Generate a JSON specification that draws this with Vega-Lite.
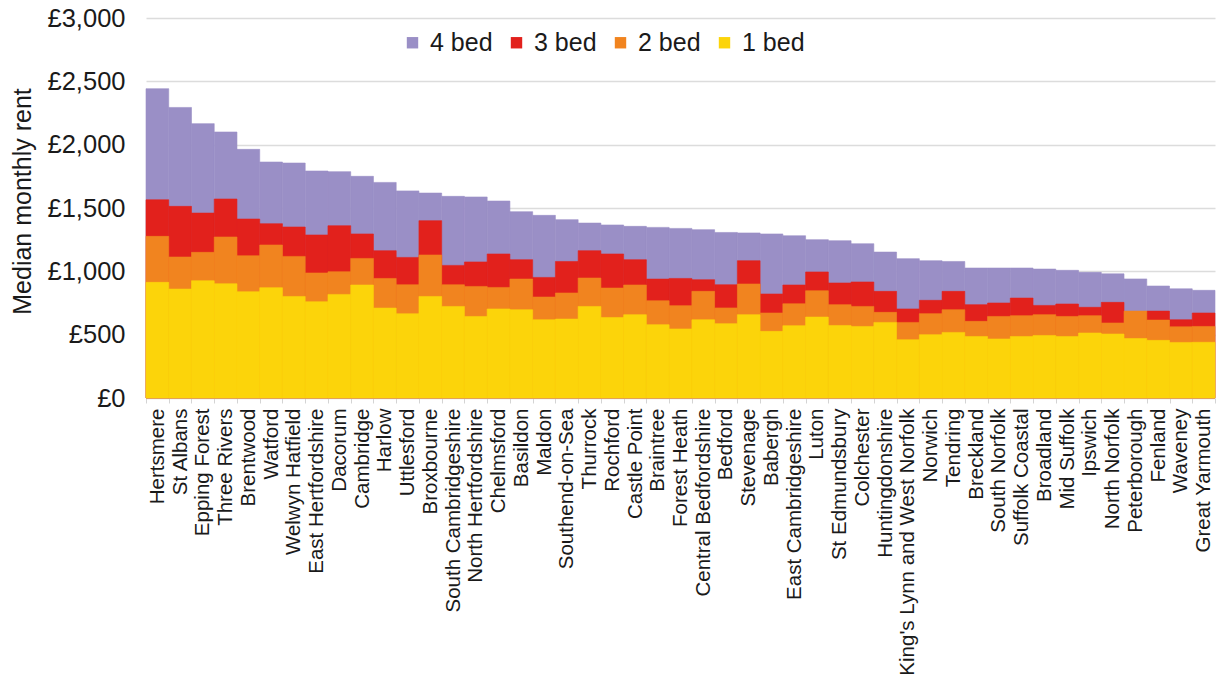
{
  "$schema": "https://vega.github.io/schema/vega-lite/v6.json",
  "width": 1069,
  "height": 380,
  "autosize": {"type": "none"},
  "padding": {"left": 146, "top": 18, "right": 1, "bottom": 279},
  "background": "white",
  "config": {
    "font": "Liberation Sans",
    "view": {"stroke": null}
  },
  "data": {
    "values": [
      {"district": "Hertsmere", "4 bed": 2442, "3 bed": 1565, "2 bed": 1276, "1 bed": 913},
      {"district": "St Albans", "4 bed": 2294, "3 bed": 1513, "2 bed": 1113, "1 bed": 860},
      {"district": "Epping Forest", "4 bed": 2166, "3 bed": 1460, "2 bed": 1150, "1 bed": 926},
      {"district": "Three Rivers", "4 bed": 2100, "3 bed": 1571, "2 bed": 1271, "1 bed": 902},
      {"district": "Brentwood", "4 bed": 1963, "3 bed": 1413, "2 bed": 1123, "1 bed": 839},
      {"district": "Watford", "4 bed": 1863, "3 bed": 1376, "2 bed": 1208, "1 bed": 871},
      {"district": "Welwyn Hatfield", "4 bed": 1855, "3 bed": 1350, "2 bed": 1118, "1 bed": 802},
      {"district": "East Hertfordshire", "4 bed": 1792, "3 bed": 1287, "2 bed": 987, "1 bed": 760},
      {"district": "Dacorum", "4 bed": 1787, "3 bed": 1360, "2 bed": 997, "1 bed": 818},
      {"district": "Cambridge", "4 bed": 1750, "3 bed": 1295, "2 bed": 1102, "1 bed": 892},
      {"district": "Harlow", "4 bed": 1702, "3 bed": 1163, "2 bed": 944, "1 bed": 710},
      {"district": "Uttlesford", "4 bed": 1635, "3 bed": 1110, "2 bed": 894, "1 bed": 665},
      {"district": "Broxbourne", "4 bed": 1618, "3 bed": 1400, "2 bed": 1129, "1 bed": 802},
      {"district": "South Cambridgeshire", "4 bed": 1592, "3 bed": 1047, "2 bed": 894, "1 bed": 723},
      {"district": "North Hertfordshire", "4 bed": 1587, "3 bed": 1074, "2 bed": 881, "1 bed": 644},
      {"district": "Chelmsford", "4 bed": 1555, "3 bed": 1137, "2 bed": 873, "1 bed": 703},
      {"district": "Basildon", "4 bed": 1471, "3 bed": 1092, "2 bed": 939, "1 bed": 697},
      {"district": "Maldon", "4 bed": 1442, "3 bed": 952, "2 bed": 797, "1 bed": 618},
      {"district": "Southend-on-Sea", "4 bed": 1408, "3 bed": 1078, "2 bed": 829, "1 bed": 623},
      {"district": "Thurrock", "4 bed": 1381, "3 bed": 1163, "2 bed": 947, "1 bed": 723},
      {"district": "Rochford", "4 bed": 1366, "3 bed": 1137, "2 bed": 868, "1 bed": 636},
      {"district": "Castle Point", "4 bed": 1355, "3 bed": 1092, "2 bed": 892, "1 bed": 658},
      {"district": "Braintree", "4 bed": 1347, "3 bed": 939, "2 bed": 768, "1 bed": 579},
      {"district": "Forest Heath", "4 bed": 1339, "3 bed": 944, "2 bed": 729, "1 bed": 545},
      {"district": "Central Bedfordshire", "4 bed": 1329, "3 bed": 934, "2 bed": 842, "1 bed": 618},
      {"district": "Bedford", "4 bed": 1307, "3 bed": 894, "2 bed": 711, "1 bed": 587},
      {"district": "Stevenage", "4 bed": 1303, "3 bed": 1084, "2 bed": 900, "1 bed": 658},
      {"district": "Babergh", "4 bed": 1295, "3 bed": 821, "2 bed": 671, "1 bed": 526},
      {"district": "East Cambridgeshire", "4 bed": 1281, "3 bed": 892, "2 bed": 744, "1 bed": 571},
      {"district": "Luton", "4 bed": 1250, "3 bed": 995, "2 bed": 847, "1 bed": 639},
      {"district": "St Edmundsbury", "4 bed": 1242, "3 bed": 908, "2 bed": 737, "1 bed": 573},
      {"district": "Colchester", "4 bed": 1218, "3 bed": 916, "2 bed": 723, "1 bed": 565},
      {"district": "Huntingdonshire", "4 bed": 1152, "3 bed": 842, "2 bed": 676, "1 bed": 597},
      {"district": "King's Lynn and West Norfolk", "4 bed": 1100, "3 bed": 703, "2 bed": 597, "1 bed": 460},
      {"district": "Norwich", "4 bed": 1084, "3 bed": 771, "2 bed": 666, "1 bed": 500},
      {"district": "Tendring", "4 bed": 1078, "3 bed": 842, "2 bed": 697, "1 bed": 518},
      {"district": "Breckland", "4 bed": 1026, "3 bed": 737, "2 bed": 605, "1 bed": 486},
      {"district": "South Norfolk", "4 bed": 1026, "3 bed": 750, "2 bed": 644, "1 bed": 466},
      {"district": "Suffolk Coastal", "4 bed": 1026, "3 bed": 789, "2 bed": 650, "1 bed": 486},
      {"district": "Broadland", "4 bed": 1018, "3 bed": 731, "2 bed": 658, "1 bed": 494},
      {"district": "Mid Suffolk", "4 bed": 1008, "3 bed": 742, "2 bed": 644, "1 bed": 486},
      {"district": "Ipswich", "4 bed": 992, "3 bed": 716, "2 bed": 650, "1 bed": 513},
      {"district": "North Norfolk", "4 bed": 980, "3 bed": 755, "2 bed": 592, "1 bed": 505},
      {"district": "Peterborough", "4 bed": 940, "3 bed": 680, "2 bed": 686, "1 bed": 470},
      {"district": "Fenland", "4 bed": 884, "3 bed": 686, "2 bed": 615, "1 bed": 455},
      {"district": "Waveney", "4 bed": 862, "3 bed": 618, "2 bed": 562, "1 bed": 439},
      {"district": "Great Yarmouth", "4 bed": 850, "3 bed": 671, "2 bed": 565, "1 bed": 440}
    ]
  },
  "transform": [
    {"fold": ["4 bed", "3 bed", "2 bed", "1 bed"], "as": ["bedrooms", "rent"]}
  ],
  "mark": {"type": "bar", "strokeWidth": 0.6},
  "encoding": {
    "x": {
      "field": "district",
      "type": "nominal",
      "sort": null,
      "scale": {"paddingInner": 0, "paddingOuter": 0},
      "axis": {
        "title": null,
        "labelAngle": -90,
        "labelAlign": "right",
        "labelBaseline": "middle",
        "labelFontSize": 20.5,
        "labelColor": "#1a1a1a",
        "labelPadding": 5,
        "labelLimit": 0,
        "tickBand": "extent",
        "tickColor": "#d4d4d4",
        "tickSize": 5,
        "domainColor": "#d9d9d9",
        "labelOverlap": false
      }
    },
    "y": {
      "field": "rent",
      "type": "quantitative",
      "stack": null,
      "scale": {"domain": [0, 3000], "nice": false},
      "axis": {
        "title": "Median monthly rent",
        "titleFontSize": 25,
        "titleFontWeight": "normal",
        "titleColor": "#1a1a1a",
        "titleX": -124,
        "titleY": 183,
        "titleAngle": -90,
        "titleAlign": "center",
        "titleBaseline": "middle",
        "values": [0, 500, 1000, 1500, 2000, 2500, 3000],
        "labelExpr": "'£' + format(datum.value, ',')",
        "labelFontSize": 25.5,
        "labelColor": "#1a1a1a",
        "labelPadding": 21,
        "ticks": false,
        "domain": false,
        "grid": true,
        "gridColor": "#dcdcdc",
        "gridWidth": 1.5
      }
    },
    "color": {
      "field": "bedrooms",
      "type": "nominal",
      "scale": {
        "domain": ["4 bed", "3 bed", "2 bed", "1 bed"],
        "range": ["#9a8fc6", "#e2211c", "#f1841f", "#fcd40a"]
      },
      "legend": {
        "title": null,
        "orient": "none",
        "direction": "horizontal",
        "legendX": 254,
        "legendY": 12,
        "padding": 0,
        "symbolType": "square",
        "symbolSize": 130,
        "symbolStrokeWidth": 0,
        "labelFontSize": 25,
        "labelColor": "#1a1a1a",
        "labelOffset": 5,
        "columnPadding": 11
      }
    },
    "stroke": {
      "field": "bedrooms",
      "type": "nominal",
      "scale": {
        "domain": ["4 bed", "3 bed", "2 bed", "1 bed"],
        "range": ["#9a8fc6", "#e2211c", "#f1841f", "#fcd40a"]
      },
      "legend": null
    },
    "order": {"field": "bedrooms", "sort": "descending"}
  }
}
